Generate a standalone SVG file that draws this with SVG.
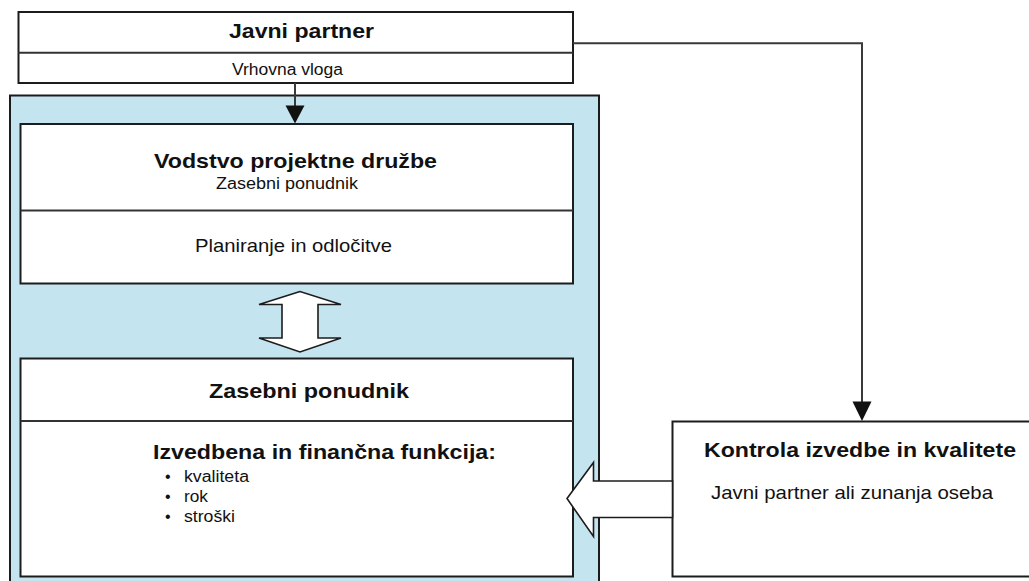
<svg xmlns="http://www.w3.org/2000/svg" width="1029" height="581" viewBox="0 0 1029 581">
  <defs>
    <style>
      .box { fill: #ffffff; stroke: #1c1c1c; stroke-width: 2; }
      .frame { fill: #c4e5f0; stroke: #1c1c1c; stroke-width: 2; }
      .div { stroke: #333333; stroke-width: 2; fill: none; }
      .link { stroke: #3a3a3a; stroke-width: 2; fill: none; }
      .hollow { fill: #ffffff; stroke: #1c1c1c; stroke-width: 1.6; stroke-linejoin: miter; }
      .head { fill: #111111; stroke: none; }
      text { font-family: "Liberation Sans", Arial, sans-serif; fill: #111111; }
      .title { font-size: 21px; font-weight: bold; }
      .sub { font-size: 16px; }
      .mid { font-size: 18.5px; }
    </style>
  </defs>

  <rect width="1029" height="581" fill="#ffffff"/>

  <!-- outer frame of the project company -->
  <g id="project-company">
    <rect class="frame" x="10" y="95.5" width="589" height="500"/>
  </g>

  <!-- public partner -->
  <g id="public-partner">
    <rect class="box" x="18.5" y="12" width="554.5" height="71"/>
    <line class="div" x1="18.5" y1="52.7" x2="573" y2="52.7"/>
    <text class="title" x="229" y="37.5" textLength="145" lengthAdjust="spacingAndGlyphs">Javni partner</text>
    <text class="sub" x="232" y="75" textLength="111" lengthAdjust="spacingAndGlyphs">Vrhovna vloga</text>
  </g>

  <!-- management of the project company -->
  <g id="management">
    <rect class="box" x="20.5" y="124" width="552.5" height="159.5"/>
    <line class="div" x1="20.5" y1="210.5" x2="573" y2="210.5"/>
    <text class="title" x="154" y="167.5" textLength="283" lengthAdjust="spacingAndGlyphs">Vodstvo projektne družbe</text>
    <text class="sub" x="216" y="188.5" textLength="142" lengthAdjust="spacingAndGlyphs">Zasebni ponudnik</text>
    <text class="mid" x="195" y="252" textLength="197" lengthAdjust="spacingAndGlyphs">Planiranje in odločitve</text>
  </g>

  <!-- private provider -->
  <g id="private-provider">
    <rect class="box" x="20.5" y="358.5" width="552.5" height="218"/>
    <line class="div" x1="20.5" y1="421" x2="573" y2="421"/>
    <text class="title" x="209" y="398" textLength="200" lengthAdjust="spacingAndGlyphs">Zasebni ponudnik</text>
    <text class="title" x="153" y="459" textLength="343" lengthAdjust="spacingAndGlyphs">Izvedbena in finančna funkcija:</text>
    <g class="sub">
      <text x="165" y="482">•</text>
      <text x="184" y="482" textLength="65" lengthAdjust="spacingAndGlyphs">kvaliteta</text>
      <text x="165" y="501.5">•</text>
      <text x="184" y="501.5" textLength="24" lengthAdjust="spacingAndGlyphs">rok</text>
      <text x="165" y="521.5">•</text>
      <text x="184" y="521.5" textLength="51" lengthAdjust="spacingAndGlyphs">stroški</text>
    </g>
  </g>

  <!-- performance and quality control -->
  <g id="quality-control">
    <rect class="box" x="672.5" y="421.5" width="370" height="155"/>
    <text class="title" x="704" y="456.5" textLength="312" lengthAdjust="spacingAndGlyphs">Kontrola izvedbe in kvalitete</text>
    <text class="mid" x="711" y="499" textLength="282" lengthAdjust="spacingAndGlyphs">Javni partner ali zunanja oseba</text>
  </g>

  <!-- connectors -->
  <g id="connectors">
    <!-- public partner down to management -->
    <line class="link" x1="295" y1="83" x2="295" y2="108"/>
    <polygon class="head" points="285.5,105.5 304.5,105.5 295,123.5"/>

    <!-- public partner to quality control -->
    <polyline class="link" points="573,43.3 862,43.3 862,404"/>
    <polygon class="head" points="852.5,401.5 871.5,401.5 862,421"/>

    <!-- two-way exchange between management and provider -->
    <polygon class="hollow" points="300,291.5 259,304.5 282,304.5 282,338 259,338 300,352 341,338 318,338 318,304.5 341,304.5"/>

    <!-- control feedback into the provider -->
    <polygon class="hollow" points="567,498.5 593.5,462.5 593.5,481 672.5,481 672.5,517.5 593.5,517.5 593.5,536.5"/>
  </g>
</svg>
